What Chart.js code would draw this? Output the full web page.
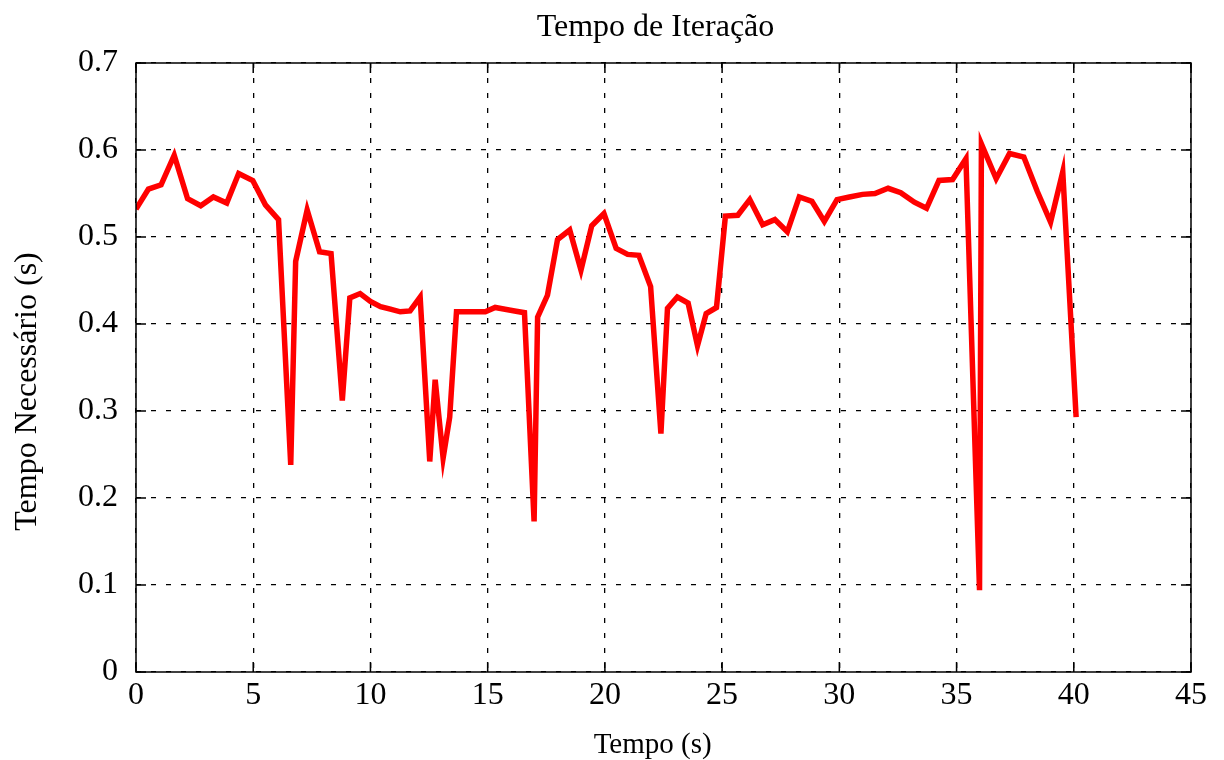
<!DOCTYPE html>
<html>
<head>
<meta charset="utf-8">
<script src="https://cdn.jsdelivr.net/npm/chart.js@4/dist/chart.umd.min.js"></script>
<style>
  html, body { margin: 0; padding: 0; background: #fff; }
  #wrap { width: 1224px; height: 760px; }
</style>
</head>
<body>
<div id="wrap"><canvas id="c" width="1224" height="760"></canvas></div>
<script>
const timeX = [0, 0.53, 1.07, 1.63, 2.2, 2.76, 3.3, 3.87, 4.38, 4.98, 5.52, 6.08, 6.6, 6.81, 7.3, 7.83, 8.32, 8.8, 9.12, 9.56, 10.0, 10.43, 10.85, 11.27, 11.69, 12.12, 12.53, 12.76, 13.1, 13.38, 13.67, 14.08, 14.5, 14.9, 15.32, 15.74, 16.15, 16.57, 16.98, 17.13, 17.55, 17.98, 18.5, 18.98, 19.44, 19.96, 20.48, 20.97, 21.45, 21.95, 22.39, 22.67, 23.09, 23.55, 23.95, 24.32, 24.76, 25.14, 25.67, 26.18, 26.73, 27.25, 27.78, 28.29, 28.83, 29.36, 29.9, 30.43, 30.99, 31.52, 32.08, 32.62, 33.2, 33.72, 34.25, 34.83, 35.4, 35.98, 36.06, 36.69, 37.26, 37.87, 38.45, 39.01, 39.53, 40.1];
const iterTime = [0.532, 0.555, 0.560, 0.594, 0.544, 0.536, 0.546, 0.539, 0.573, 0.565, 0.537, 0.520, 0.238, 0.472, 0.531, 0.483, 0.481, 0.312, 0.430, 0.435, 0.426, 0.420, 0.417, 0.414, 0.415, 0.431, 0.242, 0.336, 0.246, 0.293, 0.414, 0.414, 0.414, 0.414, 0.419, 0.417, 0.415, 0.413, 0.173, 0.408, 0.433, 0.497, 0.508, 0.462, 0.513, 0.527, 0.487, 0.480, 0.479, 0.443, 0.274, 0.418, 0.431, 0.424, 0.375, 0.412, 0.419, 0.524, 0.525, 0.543, 0.514, 0.520, 0.506, 0.546, 0.541, 0.518, 0.543, 0.546, 0.549, 0.550, 0.556, 0.551, 0.540, 0.533, 0.565, 0.566, 0.590, 0.094, 0.607, 0.567, 0.596, 0.592, 0.552, 0.517, 0.575, 0.293];
const xTicks = [0, 5, 10, 15, 20, 25, 30, 35, 40, 45];
const yTicks = [0, 0.1, 0.2, 0.3, 0.4, 0.5, 0.6, 0.7];

const titleText = 'Tempo de Iteração';
const xTitle = 'Tempo (s)';
const yTitle = 'Tempo Necessário (s)';

const FONT = "'Liberation Serif', 'Times New Roman', serif";
const NB = '\u00A0';

const points = timeX.map((x, i) => ({ x: x, y: iterTime[i] }));

const frameTicks = {
  id: 'frameTicks',
  afterLayout(chart) {
    if (chart.titleBlock) {
      chart.titleBlock.left = 120;
      chart.titleBlock.right = 1191;
    }
  },
  afterDraw(chart) {
    const { ctx, chartArea: a, scales: { x, y } } = chart;
    const L = 10;
    ctx.save();
    ctx.strokeStyle = '#000';
    ctx.lineWidth = 1.5;
    ctx.setLineDash([]);
    ctx.beginPath();
    xTicks.forEach(v => {
      const px = x.getPixelForValue(v);
      ctx.moveTo(px, a.bottom); ctx.lineTo(px, a.bottom - L);
      ctx.moveTo(px, a.top); ctx.lineTo(px, a.top + L);
    });
    yTicks.forEach(v => {
      const py = y.getPixelForValue(v);
      ctx.moveTo(a.left, py); ctx.lineTo(a.left + L, py);
      ctx.moveTo(a.right, py); ctx.lineTo(a.right - L, py);
    });
    ctx.stroke();
    ctx.strokeRect(a.left, a.top, a.right - a.left, a.bottom - a.top);
    ctx.restore();
  }
};

new Chart(document.getElementById('c'), {
  type: 'line',
  data: {
    datasets: [{
      data: points,
      borderColor: '#ff0000',
      borderWidth: 5.5,
      pointRadius: 0,
      tension: 0,
      fill: false
    }]
  },
  options: {
    responsive: false,
    animation: false,
    layout: { padding: { left: 0, right: 33, top: 0, bottom: 0 } },
    plugins: {
      legend: { display: false },
      tooltip: { enabled: false },
      title: {
        display: true,
        text: titleText,
        color: '#000',
        font: { family: FONT, size: 32, weight: 'normal' },
        padding: { top: 8.8, bottom: 15.8 }
      }
    },
    scales: {
      x: {
        type: 'linear',
        min: 0, max: 45,
        afterBuildTicks(s) { s.ticks = xTicks.map(v => ({ value: v })); },
        afterFit(s) { s.height = 88; },
        ticks: {
          color: '#000',
          font: { family: FONT, size: 32 },
          padding: 4,
          maxRotation: 0,
          callback: v => String(v)
        },
        grid: {
          color: '#000',
          lineWidth: 1.3,
          drawTicks: false
        },
        border: { display: false, dash: [5, 10] },
        title: {
          display: true,
          text: xTitle + NB + NB + NB,
          color: '#000',
          font: { family: FONT, size: 29, lineHeight: 1.0 },
          padding: { top: 0, bottom: 0 }
        }
      },
      y: {
        type: 'linear',
        min: 0, max: 0.7,
        afterBuildTicks(s) { s.ticks = yTicks.map(v => ({ value: v })); },
        afterFit(s) { s.width = 136; },
        ticks: {
          color: '#000',
          font: { family: FONT, size: 32 },
          padding: 18,
          callback: v => String(Math.round(v * 10) / 10)
        },
        grid: {
          color: '#000',
          lineWidth: 1.3,
          drawTicks: false
        },
        border: { display: false, dash: [5, 10] },
        title: {
          display: true,
          text: yTitle + NB + NB + NB + NB + NB + NB,
          color: '#000',
          font: { family: FONT, size: 32 },
          padding: { top: 8, bottom: 0 }
        }
      }
    }
  },
  plugins: [frameTicks]
});
</script>
</body>
</html>
